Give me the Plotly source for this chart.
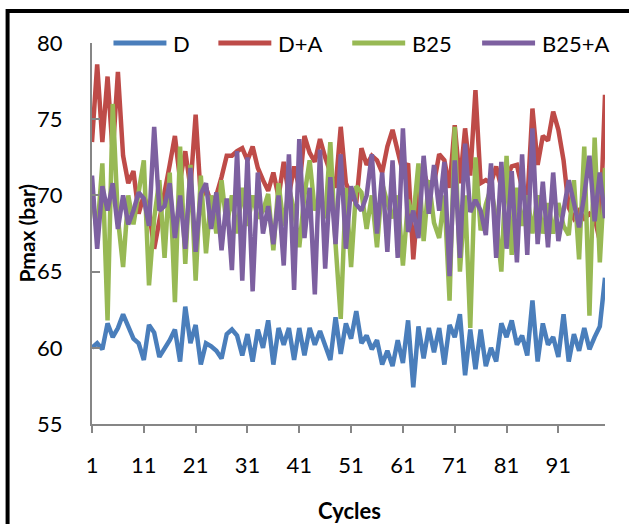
import plotly.graph_objects as go

# Cycle numbers and peak pressure per cycle (bar)
cycles = list(range(1, 101))

d_vals = [
    60.0, 60.3, 59.9, 61.6, 60.7, 61.3, 62.2, 61.3, 60.6, 60.3,
    59.2, 61.5, 61.0, 59.4, 59.9, 60.5, 61.2, 59.1, 62.7, 60.3,
    61.5, 58.9, 60.3, 60.1, 59.8, 59.3, 60.9, 61.2, 60.8, 59.5,
    60.9, 59.1, 61.2, 60.0, 61.8, 58.9, 61.3, 60.2, 61.3, 59.2,
    61.3, 59.5, 61.3, 60.2, 61.1, 60.2, 59.2, 62.0, 59.6, 61.6,
    60.6, 62.4, 60.3, 60.8, 59.9, 60.5, 58.9, 59.8, 58.8, 60.5,
    59.0, 61.8, 57.4, 61.4, 59.3, 61.3, 59.7, 61.3, 58.9, 61.5,
    60.7, 62.2, 58.2, 61.2, 58.6, 61.2, 58.8, 60.0, 59.1, 61.6,
    60.7, 61.8, 60.2, 60.8, 59.5, 63.1, 59.1, 61.6, 60.2, 60.7,
    59.4, 62.2, 59.1, 60.9, 59.8, 61.3, 59.9, 60.7, 61.4, 64.6,
]

da_vals = [
    73.5, 78.6, 73.5, 77.8, 72.8, 78.1, 72.6, 70.8, 71.6, 68.8,
    70.0, 69.0, 66.5, 68.5, 70.2, 72.0, 73.9, 71.0, 72.9, 70.5,
    75.3, 69.8, 70.5, 69.5, 70.0, 71.2, 72.6, 72.6, 72.9, 73.1,
    72.3, 73.2, 71.8, 71.0, 70.3, 71.5, 69.9, 72.2, 70.0, 71.9,
    70.5, 73.9, 72.8, 72.2, 73.7, 72.5, 71.5, 70.5, 74.5, 70.8,
    70.0, 69.5, 73.1, 72.0, 72.6, 72.3, 71.5, 73.2, 74.3, 72.9,
    71.5, 72.1, 65.8, 70.0, 71.5, 70.5, 70.8, 72.7, 72.3, 70.5,
    74.6, 70.8, 74.4, 71.3, 76.9, 70.8, 71.0, 70.8, 71.9, 70.5,
    71.2, 71.9, 72.0, 70.5, 69.5, 75.7, 72.0, 73.9, 73.6, 75.5,
    74.3, 72.3, 69.2, 68.5, 69.0, 68.5, 68.8, 68.5, 67.0, 76.6,
]

b25_vals = [
    70.0, 67.5, 72.1, 61.8, 76.0, 68.5, 65.3, 70.0, 68.1, 70.0,
    72.3, 64.1, 68.5, 71.0, 65.9, 71.5, 63.0, 73.2, 65.5, 72.0,
    64.4, 71.3, 66.2, 70.0, 67.5, 71.0, 68.0, 70.0, 67.5, 70.5,
    68.0, 70.0, 68.5, 69.0, 70.1, 66.4, 70.8, 68.0, 70.5, 69.0,
    66.6, 70.0, 72.3, 69.0, 70.0, 68.5, 73.5, 66.8, 61.9, 70.5,
    65.3, 70.6, 70.2, 67.8, 70.0, 66.6, 70.8, 69.5, 68.5, 70.0,
    65.4, 69.7, 68.5, 72.1, 67.0, 71.0, 68.2, 67.2, 70.0, 63.1,
    74.5, 65.0, 70.0, 61.3, 72.5, 67.7, 69.4, 70.5, 68.5, 65.0,
    72.6, 66.1, 70.5, 68.0, 70.0, 67.5, 70.0, 67.5, 69.5, 67.5,
    69.5, 68.0, 67.4, 71.0, 65.8, 73.2, 62.1, 73.8, 65.6, 71.8,
]

b25a_vals = [
    71.3, 66.5, 70.6, 69.0, 70.8, 67.8, 70.0, 68.1, 69.0, 70.2,
    69.8, 68.0, 74.5, 69.0, 69.3, 70.8, 67.2, 70.0, 66.5, 71.8,
    66.3, 70.1, 70.8, 67.8, 70.2, 66.4, 69.8, 65.1, 72.9, 64.4,
    72.5, 63.7, 71.5, 67.5, 69.3, 66.8, 70.0, 65.4, 72.7, 63.8,
    73.7, 67.2, 70.5, 63.5, 73.0, 65.2, 71.2, 66.8, 72.7, 66.5,
    70.6, 69.4, 69.0, 70.0, 72.7, 67.5, 71.5, 66.3, 72.3, 65.9,
    74.4, 67.6, 69.0, 67.2, 72.6, 68.8, 72.0, 69.0, 72.2, 64.7,
    72.3, 65.9, 73.4, 68.9, 69.7, 69.0, 67.4, 72.1, 65.9, 72.2,
    66.5, 71.6, 65.6, 72.7, 66.1, 74.4, 66.8, 70.9, 66.6, 71.5,
    67.0, 69.1, 71.0, 69.5, 67.9, 70.0, 72.6, 68.3, 71.5, 68.5,
]

series_names = ["D", "D+A", "B25", "B25+A"]
series_vals = [d_vals, da_vals, b25_vals, b25a_vals]
series_colors = ["#4A7EBB", "#BE4B48", "#98B954", "#7D60A0"]

x_ticks = [1, 11, 21, 31, 41, 51, 61, 71, 81, 91]
y_ticks = [55, 60, 65, 70, 75, 80]

# page and plot-area geometry (pixels)
W, H = 629, 524
L, R, T, B = 91.5, 605.0, 43.0, 424.0
PW, PH = R - L, B - T


def px(xp):
    return (xp - L) / PW


def py(yp):
    return (B - yp) / PH


FONT = "Lato, 'Liberation Sans', Arial, sans-serif"
AXIS_GREY = "#868686"

fig = go.Figure()
for name, vals, col in zip(series_names, series_vals, series_colors):
    fig.add_trace(go.Scatter(
        x=cycles, y=vals, mode="lines", name=name,
        line=dict(color=col, width=4.5),
        showlegend=False,
    ))

shapes = []
annotations = []

# legend drawn along the top of the plot area
legend_x = [113, 218, 352, 482]
legend_y = 43
for name, col, lx in zip(series_names, series_colors, legend_x):
    shapes.append(dict(type="line", xref="paper", yref="paper",
                       x0=px(lx), x1=px(lx + 53), y0=py(legend_y), y1=py(legend_y),
                       line=dict(color=col, width=5)))
    annotations.append(dict(xref="paper", yref="paper", x=px(lx + 58), y=py(legend_y),
                            text=name, showarrow=False, xanchor="left", yanchor="middle",
                            font=dict(family=FONT, size=22, color="black")))

# outer frame
shapes.append(dict(type="rect", xref="paper", yref="paper",
                   x0=px(7), x1=px(700), y0=py(11), y1=py(600),
                   line=dict(color="black", width=4), fillcolor="rgba(0,0,0,0)",
                   layer="above"))

# axis titles
annotations.append(dict(xref="paper", yref="paper", x=px(25), y=py(233),
                        text="<b>Pmax (bar)</b>", textangle=-90, showarrow=False,
                        xanchor="center", yanchor="middle",
                        font=dict(family=FONT, size=21, color="black")))
annotations.append(dict(xref="paper", yref="paper", x=px(349), y=py(510),
                        text="<b>Cycles</b>", showarrow=False,
                        xanchor="center", yanchor="middle",
                        font=dict(family=FONT, size=22, color="black")))

fig.update_layout(
    width=W, height=H,
    margin=dict(l=L, r=W - R, t=T, b=H - B, pad=0),
    paper_bgcolor="white", plot_bgcolor="white",
    showlegend=False,
    shapes=shapes,
    annotations=annotations,
    xaxis=dict(range=[1, 100], tickvals=x_ticks, ticktext=[str(v) for v in x_ticks],
               ticks="outside", ticklen=7, tickwidth=1.5, tickcolor=AXIS_GREY,
               showline=True, linecolor=AXIS_GREY, linewidth=2,
               showgrid=False, zeroline=False, ticklabelstandoff=14,
               tickfont=dict(family=FONT, size=22, color="black")),
    yaxis=dict(range=[55, 80], tickvals=y_ticks,
               ticks="inside", ticklen=8, tickwidth=1.5, tickcolor=AXIS_GREY,
               showline=True, linecolor=AXIS_GREY, linewidth=2,
               showgrid=False, zeroline=False, ticklabelstandoff=23,
               tickfont=dict(family=FONT, size=22, color="black")),
)

fig.write_html("out.html")
